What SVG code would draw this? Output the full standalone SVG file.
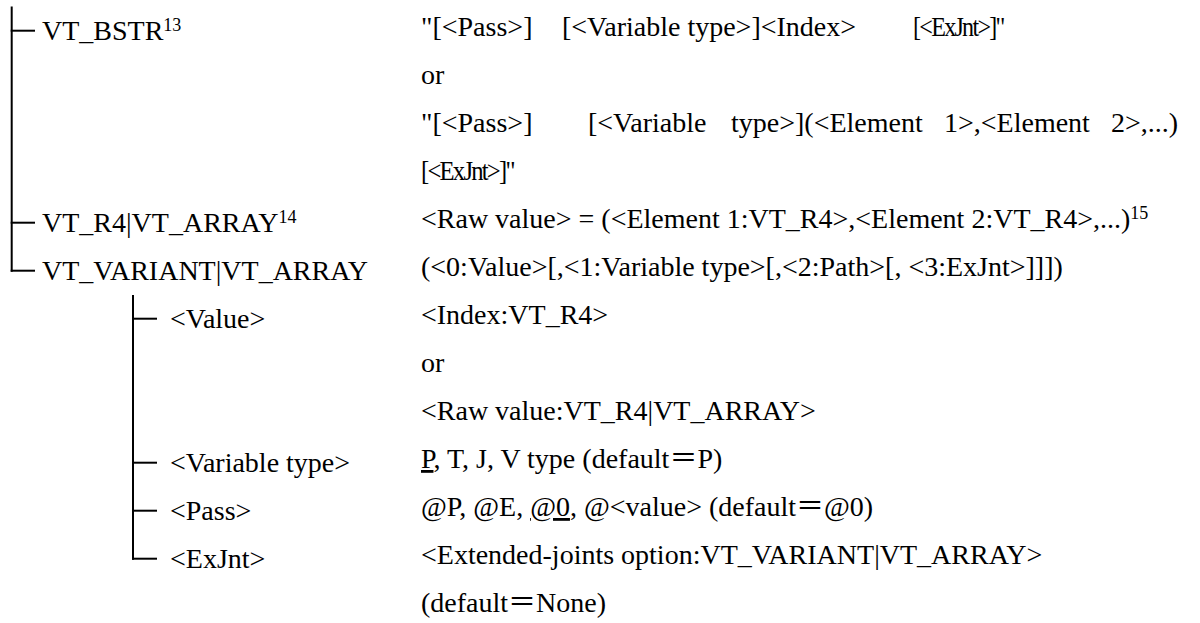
<svg xmlns="http://www.w3.org/2000/svg" width="1200" height="623" viewBox="0 0 1200 623">
<style>
text{font-family:'Liberation Serif','Times New Roman',serif;font-size:28px;fill:#000}
.sup{font-size:18px}
.u{text-decoration:underline}
.cjk{font-family:'Noto Sans CJK JP',sans-serif}
.tight{letter-spacing:-2px}
.conn line{stroke:#000;stroke-width:2;fill:none}
</style>
<rect width="1200" height="623" fill="#fff"/>
<g id="connectors" class="conn">
<line x1="11.7" y1="6.5" x2="11.7" y2="271.7"/>
<line x1="10.7" y1="30.7" x2="35" y2="30.7"/>
<line x1="10.7" y1="222.7" x2="35" y2="222.7"/>
<line x1="10.7" y1="270.7" x2="35" y2="270.7"/>
<line x1="133" y1="295" x2="133" y2="559.7"/>
<line x1="132" y1="318.7" x2="157" y2="318.7"/>
<line x1="132" y1="462.7" x2="157" y2="462.7"/>
<line x1="132" y1="510.7" x2="157" y2="510.7"/>
<line x1="132" y1="558.7" x2="157" y2="558.7"/>
</g>
<g id="node-vt-bstr">
<text x="42" y="40">VT_BSTR<tspan class="sup" dy="-9">13</tspan></text>
<text x="421" y="36">"[&lt;Pass&gt;]</text>
<text x="562" y="36">[&lt;Variable type&gt;]&lt;Index&gt;</text>
<text class="tight" transform="translate(913,36) scale(0.86,1)">[&lt;ExJnt&gt;]"</text>
<text x="421" y="84">or</text>
<text x="421" y="132">"[&lt;Pass&gt;]</text>
<text x="588" y="132">[&lt;Variable</text>
<text x="731" y="132">type&gt;](&lt;Element</text>
<text x="944" y="132">1&gt;,&lt;Element</text>
<text x="1111" y="132">2&gt;,...)</text>
<text class="tight" transform="translate(421,180) scale(0.88,1)">[&lt;ExJnt&gt;]"</text>
</g>
<g id="node-vt-r4-array">
<text x="42" y="232">VT_R4|VT_ARRAY<tspan class="sup" dy="-9">14</tspan></text>
<text x="421" y="228">&lt;Raw value&gt; = (&lt;Element 1:VT_R4&gt;,&lt;Element 2:VT_R4&gt;,...)<tspan class="sup" dy="-9">15</tspan></text>
</g>
<g id="node-vt-variant-array">
<text x="42" y="280">VT_VARIANT|VT_ARRAY</text>
<text x="421" y="276">(&lt;0:Value&gt;[,&lt;1:Variable type&gt;[,&lt;2:Path&gt;[, &lt;3:ExJnt&gt;]]])</text>
</g>
<g id="node-value">
<text x="170" y="328">&lt;Value&gt;</text>
<text x="421" y="324">&lt;Index:VT_R4&gt;</text>
<text x="421" y="372">or</text>
<text x="421" y="420">&lt;Raw value:VT_R4|VT_ARRAY&gt;</text>
</g>
<g id="node-variable-type">
<text x="170" y="472">&lt;Variable type&gt;</text>
<text x="421" y="468"><tspan class="u">P</tspan>, T, J, V type (default<tspan class="cjk">＝</tspan>P)</text>
</g>
<g id="node-pass">
<text x="170" y="520">&lt;Pass&gt;</text>
<text x="421" y="516">@P, @E, <tspan class="u">@0</tspan>, @&lt;value&gt; (default<tspan class="cjk">＝</tspan>@0)</text>
</g>
<g id="node-exjnt">
<text x="170" y="568">&lt;ExJnt&gt;</text>
<text x="421" y="564">&lt;Extended-joints option:VT_VARIANT|VT_ARRAY&gt;</text>
<text x="421" y="612">(default<tspan class="cjk">＝</tspan>None)</text>
</g>
</svg>
